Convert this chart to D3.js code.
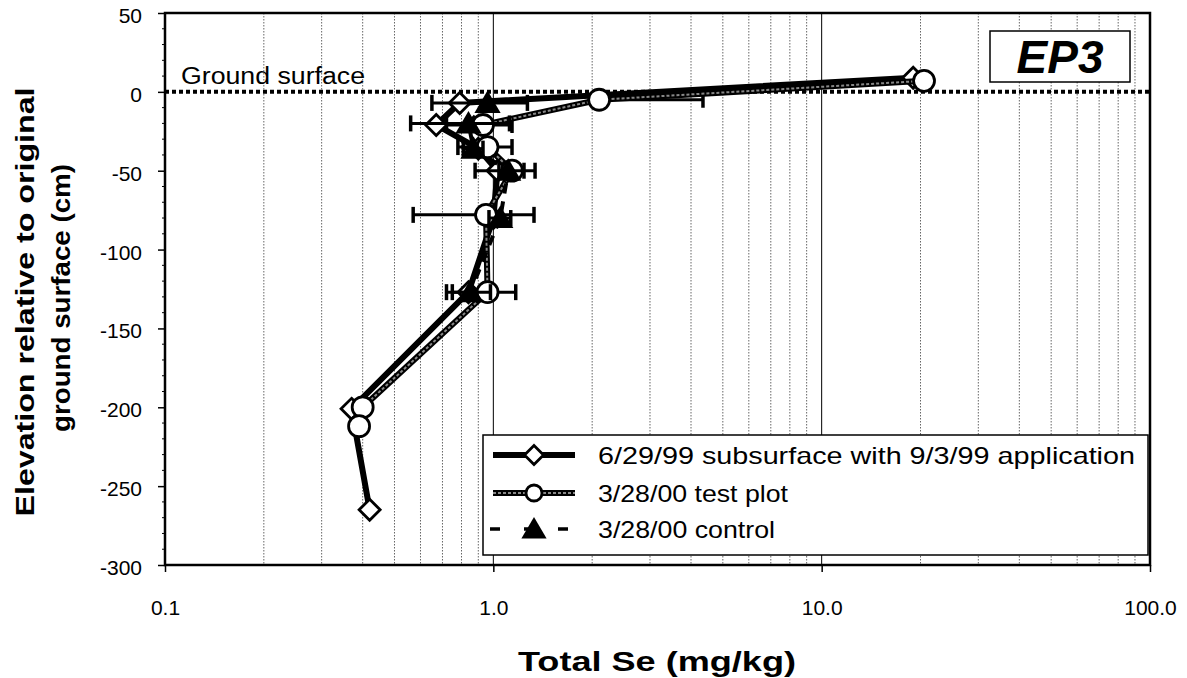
<!DOCTYPE html>
<html><head><meta charset="utf-8">
<script src="https://cdn.jsdelivr.net/npm/d3@7"></script>
<style>body{margin:0;background:#fff} svg{display:block} text{font-family:"Liberation Sans",Arial,sans-serif;fill:#000}</style>
</head><body>
<svg id="c" width="1187" height="678"></svg>
<script>
// ---- data ----
const seriesNames = ["6/29/99 subsurface with 9/3/99 application", "3/28/00 test plot", "3/28/00 control"];
const subsurfaceSe   = [19, 0.79, 0.67, 0.9, 1.03, 1.0, 0.84, 0.37, 0.42];
const subsurfaceElev = [9, -7, -21, -36, -50, -80, -127, -201, -265];
const testPlotSe     = [20.5, 2.1, 0.93, 0.96, 1.14, 0.95, 0.96, 0.40, 0.39];
const testPlotElev   = [7, -5, -21, -35, -50, -78, -127, -200, -212];
const testPlotErrMinus = [0, 0, 0.21, 0.18, 0.1, 0.38, 0.21, 0, 0];
const testPlotErrPlus  = [0, 2.25, 0.21, 0.18, 0.1, 0.38, 0.21, 0, 0];
const controlSe   = [0.96, 0.84, 0.87, 1.11, 1.05, 0.85];
const controlElev = [-7, -20, -36, -50, -80, -127];
const controlErr  = [0.31, 0.28, 0.06, 0.23, 0.08, 0.13];
const xTicks = [0.1, 1, 10, 100];
const xTickLabels = ["0.1", "1.0", "10.0", "100.0"];
const yTicks = [50, 0, -50, -100, -150, -200, -250, -300];
const groundLabel = "Ground surface";
const panelLabel = "EP3";
const xTitle = "Total Se (mg/kg)";
const yTitle = ["Elevation relative to original", "ground surface (cm)"];

// ---- layout ----
const L = 165, R = 1150, T = 13, B = 565;
const FONT = '"Liberation Sans",Arial,sans-serif';
const svg = d3.select("#c");
const x = d3.scaleLog().domain([0.1, 100]).range([L, R]);
const y = d3.scaleLinear().domain([-300, 50]).range([B, T]);

// gridlines
const minor = [];
[0.1, 1, 10].forEach(d => { for (let k = 2; k <= 9; k++) minor.push(d * k); });
svg.append("g").selectAll("line").data(minor).join("line")
  .attr("x1", d => x(d)).attr("x2", d => x(d)).attr("y1", T).attr("y2", B)
  .attr("stroke", "#666").attr("stroke-width", 1).attr("stroke-dasharray", "1.5,1.5");
svg.append("g").selectAll("line").data([1, 10]).join("line")
  .attr("x1", d => x(d)).attr("x2", d => x(d)).attr("y1", T).attr("y2", B)
  .attr("stroke", "#000").attr("stroke-width", 1);

// axes
const xAxis = d3.axisBottom(x).tickValues(xTicks).tickFormat((d, i) => xTickLabels[i]).tickSize(7).tickPadding(28);
const gx = svg.append("g").attr("transform", `translate(0,${B})`).call(xAxis);
gx.select(".domain").remove();
gx.selectAll("line").attr("stroke-width", 1.5);
gx.selectAll("text").attr("font-size", 21).style("font-family", FONT);

const yAxis = d3.axisLeft(y).tickValues(yTicks).tickFormat(d => String(d)).tickSize(7).tickPadding(16);
const gy = svg.append("g").attr("transform", `translate(${L},0)`).call(yAxis);
gy.select(".domain").remove();
gy.selectAll("line").attr("stroke-width", 1.5);
gy.selectAll("text").attr("font-size", 21).attr("dy", "0.45em").style("font-family", FONT);
const yMinor = d3.range(-300, 51, 10).filter(v => v % 50 !== 0);
svg.append("g").selectAll("line").data(yMinor).join("line")
  .attr("x1", L - 3).attr("x2", L).attr("y1", d => y(d)).attr("y2", d => y(d))
  .attr("stroke", "#000").attr("stroke-width", 1);

// frame
svg.append("rect").attr("x", L).attr("y", T).attr("width", R - L).attr("height", B - T)
  .attr("fill", "none").attr("stroke", "#000").attr("stroke-width", 2.5);

// ground surface
svg.append("line").attr("x1", L).attr("x2", R).attr("y1", y(0)).attr("y2", y(0))
  .attr("stroke", "#000").attr("stroke-width", 4).attr("stroke-dasharray", "4,3");
svg.append("text").attr("x", L + 16).attr("y", y(0) - 8).attr("font-size", 23)
  .attr("textLength", 184).attr("lengthAdjust", "spacingAndGlyphs").text(groundLabel);

// panel label
svg.append("rect").attr("x", 990).attr("y", 31).attr("width", 140).attr("height", 51)
  .attr("fill", "#fff").attr("stroke", "#000").attr("stroke-width", 1.5);
svg.append("text").attr("x", 1060).attr("y", 73).attr("text-anchor", "middle")
  .attr("font-size", 46).attr("font-weight", "bold").attr("font-style", "italic").text(panelLabel);

// helpers
const lineGen = d3.line().x(d => x(d[0])).y(d => y(d[1]));
const diamond = s => `M0,${-s}L${s},0L0,${s}L${-s},0Z`;
const triangle = s => `M0,${-s}L${s * 1.05},${s * 0.8}L${-s * 1.05},${s * 0.8}Z`;

function errorBars(g, se, el, minus, plus) {
  se.forEach((v, i) => {
    const lo = v - minus[i], hi = v + plus[i];
    if (minus[i] <= 0 && plus[i] <= 0) return;
    const yy = y(el[i]);
    const x0 = minus[i] > 0 ? x(lo) : x(v);
    const x1 = plus[i] > 0 ? x(hi) : x(v);
    g.append("line").attr("x1", x0).attr("x2", x1).attr("y1", yy).attr("y2", yy)
      .attr("stroke", "#000").attr("stroke-width", 3);
    if (minus[i] > 0) g.append("line").attr("x1", x0).attr("x2", x0).attr("y1", yy - 8).attr("y2", yy + 8)
      .attr("stroke", "#000").attr("stroke-width", 3.5);
    if (plus[i] > 0) g.append("line").attr("x1", x1).attr("x2", x1).attr("y1", yy - 8).attr("y2", yy + 8)
      .attr("stroke", "#000").attr("stroke-width", 3.5);
  });
}

// series 1: subsurface (diamonds, solid)
const s1 = subsurfaceSe.map((v, i) => [v, subsurfaceElev[i]]);
const g1 = svg.append("g");
g1.append("path").attr("d", lineGen(s1)).attr("fill", "none").attr("stroke", "#000").attr("stroke-width", 6).attr("stroke-linejoin", "round");
g1.selectAll("path.m").data(s1).join("path").attr("class", "m")
  .attr("transform", d => `translate(${x(d[0])},${y(d[1])})`).attr("d", diamond(10.5))
  .attr("fill", "#fff").attr("stroke", "#000").attr("stroke-width", 2.8);

// series 2: test plot (circles, grey hatched)
const s2 = testPlotSe.map((v, i) => [v, testPlotElev[i]]);
const g2 = svg.append("g");
errorBars(g2, testPlotSe, testPlotElev, testPlotErrMinus, testPlotErrPlus);
g2.append("path").attr("d", lineGen(s2)).attr("fill", "none").attr("stroke", "#000").attr("stroke-width", 6).attr("stroke-linejoin", "round");
g2.append("path").attr("d", lineGen(s2)).attr("fill", "none").attr("stroke", "#888").attr("stroke-width", 2).attr("stroke-dasharray", "3,2").attr("stroke-linejoin", "round");
g2.selectAll("circle").data(s2).join("circle")
  .attr("cx", d => x(d[0])).attr("cy", d => y(d[1])).attr("r", 10.5)
  .attr("fill", "#fff").attr("stroke", "#000").attr("stroke-width", 2.8);

// series 3: control (triangles, dashed)
const s3 = controlSe.map((v, i) => [v, controlElev[i]]);
const g3 = svg.append("g");
errorBars(g3, controlSe, controlElev, controlErr, controlErr);
g3.append("path").attr("d", lineGen(s3)).attr("fill", "none").attr("stroke", "#000").attr("stroke-width", 4).attr("stroke-dasharray", "10,8");
g3.selectAll("path.m").data(s3).join("path").attr("class", "m")
  .attr("transform", d => `translate(${x(d[0])},${y(d[1])})`).attr("d", triangle(12.5))
  .attr("fill", "#000");

// legend
const lg = svg.append("g");
lg.append("rect").attr("x", 483).attr("y", 435).attr("width", R - 483 - 2).attr("height", 120)
  .attr("fill", "#fff").attr("stroke", "#000").attr("stroke-width", 1.5);
const rowsY = [455, 493, 529];
const textLens = [537, 190, 177];
const lx0 = 493, lx1 = 575, lxm = 534;
// row 1
lg.append("line").attr("x1", lx0).attr("x2", lx1).attr("y1", rowsY[0]).attr("y2", rowsY[0]).attr("stroke", "#000").attr("stroke-width", 6);
lg.append("path").attr("transform", `translate(${lxm},${rowsY[0]})`).attr("d", diamond(9.5)).attr("fill", "#fff").attr("stroke", "#000").attr("stroke-width", 2.8);
// row 2
lg.append("line").attr("x1", lx0).attr("x2", lx1).attr("y1", rowsY[1]).attr("y2", rowsY[1]).attr("stroke", "#000").attr("stroke-width", 6);
lg.append("line").attr("x1", lx0).attr("x2", lx1).attr("y1", rowsY[1]).attr("y2", rowsY[1]).attr("stroke", "#888").attr("stroke-width", 2).attr("stroke-dasharray", "3,2");
lg.append("circle").attr("cx", lxm).attr("cy", rowsY[1]).attr("r", 8).attr("fill", "#fff").attr("stroke", "#000").attr("stroke-width", 2.8);
// row 3
lg.append("line").attr("x1", lx0 - 3).attr("x2", lx1 + 3).attr("y1", rowsY[2]).attr("y2", rowsY[2]).attr("stroke", "#000").attr("stroke-width", 3.5).attr("stroke-dasharray", "10,24");
lg.append("path").attr("transform", `translate(${lxm},${rowsY[2]})`).attr("d", triangle(12)).attr("fill", "#000");
seriesNames.forEach((n, i) => {
  lg.append("text").attr("x", 598).attr("y", rowsY[i]).attr("dy", "0.36em").attr("font-size", 24)
    .attr("textLength", textLens[i]).attr("lengthAdjust", "spacingAndGlyphs").text(n);
});

// axis titles
svg.append("text").attr("x", 657).attr("y", 671).attr("text-anchor", "middle")
  .attr("font-size", 27).attr("font-weight", "bold")
  .attr("textLength", 278).attr("lengthAdjust", "spacingAndGlyphs").text(xTitle);
svg.append("text").attr("transform", "translate(34,302) rotate(-90)").attr("text-anchor", "middle")
  .attr("font-size", 26).attr("font-weight", "bold")
  .attr("textLength", 429).attr("lengthAdjust", "spacingAndGlyphs").text(yTitle[0]);
svg.append("text").attr("transform", "translate(70,298) rotate(-90)").attr("text-anchor", "middle")
  .attr("font-size", 26).attr("font-weight", "bold")
  .attr("textLength", 268).attr("lengthAdjust", "spacingAndGlyphs").text(yTitle[1]);
</script>
</body></html>
